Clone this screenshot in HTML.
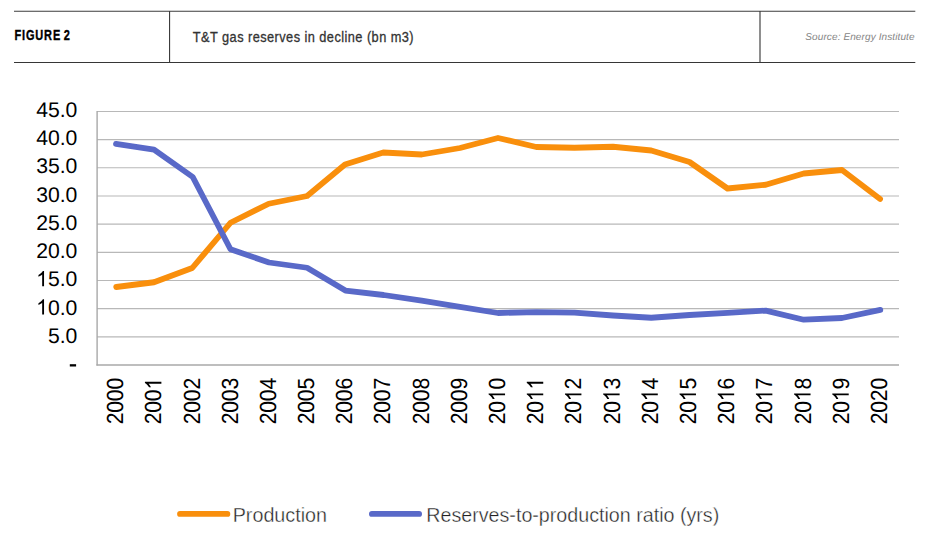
<!DOCTYPE html>
<html><head><meta charset="utf-8"><title>Figure 2</title>
<style>
html,body{margin:0;padding:0;background:#fff;}
body{width:928px;height:545px;overflow:hidden;position:relative;font-family:"Liberation Sans",sans-serif;}
svg{position:absolute;left:0;top:0;}
svg text{font-family:"Liberation Sans",sans-serif;}
.ax text{font-size:21.2px;fill:#000;text-rendering:geometricPrecision;}
.lg text{font-size:20px;fill:#222;stroke:#fff;stroke-width:0.38px;}
</style></head><body>
<svg width="928" height="545" viewBox="0 0 928 545">
<rect width="928" height="545" fill="#fff"/>
<!-- header -->
<line x1="14" y1="11.25" x2="915.3" y2="11.25" stroke="#3c3c3c" stroke-width="1.2"/>
<line x1="14" y1="62.45" x2="915.3" y2="62.45" stroke="#363636" stroke-width="1.05"/>
<line x1="169.55" y1="11" x2="169.55" y2="62.5" stroke="#3c3c3c" stroke-width="1.15"/>
<line x1="760.0" y1="11" x2="760.0" y2="62.5" stroke="#3c3c3c" stroke-width="1.15"/>
<text transform="translate(14.5,39.9) scale(0.717,1)" font-size="15.3" font-weight="bold" fill="#000" stroke="#000" stroke-width="0.4" letter-spacing="1.2" word-spacing="-1.8">FIGURE 2</text>
<text transform="translate(192.8,41.7) scale(0.883,1)" font-size="14.5" fill="#333" stroke="#333" stroke-width="0.3" letter-spacing="0.5">T&amp;T gas reserves in decline (bn m3)</text>
<text x="805.3" y="40.3" font-size="10.0" font-style="italic" fill="#858585" letter-spacing="0.11" style="text-rendering:geometricPrecision">Source: Energy Institute</text>
<!-- grid -->
<line x1="97.1" y1="111.45" x2="899.0" y2="111.45" stroke="#b8b8b8" stroke-width="1.15"/>
<line x1="97.1" y1="139.62" x2="899.0" y2="139.62" stroke="#b8b8b8" stroke-width="1.15"/>
<line x1="97.1" y1="167.79" x2="899.0" y2="167.79" stroke="#b8b8b8" stroke-width="1.15"/>
<line x1="97.1" y1="195.97" x2="899.0" y2="195.97" stroke="#b8b8b8" stroke-width="1.15"/>
<line x1="97.1" y1="224.14" x2="899.0" y2="224.14" stroke="#b8b8b8" stroke-width="1.15"/>
<line x1="97.1" y1="252.31" x2="899.0" y2="252.31" stroke="#b8b8b8" stroke-width="1.15"/>
<line x1="97.1" y1="280.48" x2="899.0" y2="280.48" stroke="#b8b8b8" stroke-width="1.15"/>
<line x1="97.1" y1="308.66" x2="899.0" y2="308.66" stroke="#b8b8b8" stroke-width="1.15"/>
<line x1="97.1" y1="336.83" x2="899.0" y2="336.83" stroke="#b8b8b8" stroke-width="1.15"/>

<line x1="96.39999999999999" y1="365.0" x2="899.0" y2="365.0" stroke="#a8a8a8" stroke-width="1.6"/>
<line x1="97.1" y1="110.95" x2="97.1" y2="365.5" stroke="#a8a8a8" stroke-width="1.4"/>
<g class="ax">
<g transform="translate(36.14,116.75)"><text y="0" font-size="21.2"><tspan x="0.00">4</tspan><tspan x="11.79">5</tspan><tspan x="23.58">.</tspan><tspan x="29.47">0</tspan></text></g>
<g transform="translate(36.14,145.01)"><text y="0" font-size="21.2"><tspan x="0.00">4</tspan><tspan x="11.79">0</tspan><tspan x="23.58">.</tspan><tspan x="29.47">0</tspan></text></g>
<g transform="translate(36.14,173.27)"><text y="0" font-size="21.2"><tspan x="0.00">3</tspan><tspan x="11.79">5</tspan><tspan x="23.58">.</tspan><tspan x="29.47">0</tspan></text></g>
<g transform="translate(36.14,201.53)"><text y="0" font-size="21.2"><tspan x="0.00">3</tspan><tspan x="11.79">0</tspan><tspan x="23.58">.</tspan><tspan x="29.47">0</tspan></text></g>
<g transform="translate(36.14,229.79)"><text y="0" font-size="21.2"><tspan x="0.00">2</tspan><tspan x="11.79">5</tspan><tspan x="23.58">.</tspan><tspan x="29.47">0</tspan></text></g>
<g transform="translate(36.14,258.05)"><text y="0" font-size="21.2"><tspan x="0.00">2</tspan><tspan x="11.79">0</tspan><tspan x="23.58">.</tspan><tspan x="29.47">0</tspan></text></g>
<g transform="translate(36.14,286.31)"><path d="M763 0L583 0L583 1147Q518 1085 412.5 1023Q307 961 223 930L223 1104Q374 1175 487 1276Q600 1377 647 1472L763 1472Z" transform="translate(0.00,0) scale(0.010352,-0.010352)"/><text y="0" font-size="21.2"><tspan x="11.79">5</tspan><tspan x="23.58">.</tspan><tspan x="29.47">0</tspan></text></g>
<g transform="translate(36.14,314.57)"><path d="M763 0L583 0L583 1147Q518 1085 412.5 1023Q307 961 223 930L223 1104Q374 1175 487 1276Q600 1377 647 1472L763 1472Z" transform="translate(0.00,0) scale(0.010352,-0.010352)"/><text y="0" font-size="21.2"><tspan x="11.79">0</tspan><tspan x="23.58">.</tspan><tspan x="29.47">0</tspan></text></g>
<g transform="translate(47.93,342.83)"><text y="0" font-size="21.2"><tspan x="0.00">5</tspan><tspan x="11.79">.</tspan><tspan x="17.68">0</tspan></text></g>
<rect x="69.8" y="364.2" width="6.3" height="2.3" fill="#000"/>

<g transform="translate(123.19,424.3) rotate(-90) scale(1,1.10)"><text y="0" font-size="20.8"><tspan x="0.00">2</tspan><tspan x="11.57">0</tspan><tspan x="23.14">0</tspan><tspan x="34.70">0</tspan></text></g>
<g transform="translate(161.38,424.3) rotate(-90) scale(1,1.10)"><path d="M763 0L583 0L583 1147Q518 1085 412.5 1023Q307 961 223 930L223 1104Q374 1175 487 1276Q600 1377 647 1472L763 1472Z" transform="translate(34.70,0) scale(0.010156,-0.010156)"/><text y="0" font-size="20.8"><tspan x="0.00">2</tspan><tspan x="11.57">0</tspan><tspan x="23.14">0</tspan></text></g>
<g transform="translate(199.56,424.3) rotate(-90) scale(1,1.10)"><text y="0" font-size="20.8"><tspan x="0.00">2</tspan><tspan x="11.57">0</tspan><tspan x="23.14">0</tspan><tspan x="34.70">2</tspan></text></g>
<g transform="translate(237.75,424.3) rotate(-90) scale(1,1.10)"><text y="0" font-size="20.8"><tspan x="0.00">2</tspan><tspan x="11.57">0</tspan><tspan x="23.14">0</tspan><tspan x="34.70">3</tspan></text></g>
<g transform="translate(275.94,424.3) rotate(-90) scale(1,1.10)"><text y="0" font-size="20.8"><tspan x="0.00">2</tspan><tspan x="11.57">0</tspan><tspan x="23.14">0</tspan><tspan x="34.70">4</tspan></text></g>
<g transform="translate(314.12,424.3) rotate(-90) scale(1,1.10)"><text y="0" font-size="20.8"><tspan x="0.00">2</tspan><tspan x="11.57">0</tspan><tspan x="23.14">0</tspan><tspan x="34.70">5</tspan></text></g>
<g transform="translate(352.31,424.3) rotate(-90) scale(1,1.10)"><text y="0" font-size="20.8"><tspan x="0.00">2</tspan><tspan x="11.57">0</tspan><tspan x="23.14">0</tspan><tspan x="34.70">6</tspan></text></g>
<g transform="translate(390.49,424.3) rotate(-90) scale(1,1.10)"><text y="0" font-size="20.8"><tspan x="0.00">2</tspan><tspan x="11.57">0</tspan><tspan x="23.14">0</tspan><tspan x="34.70">7</tspan></text></g>
<g transform="translate(428.68,424.3) rotate(-90) scale(1,1.10)"><text y="0" font-size="20.8"><tspan x="0.00">2</tspan><tspan x="11.57">0</tspan><tspan x="23.14">0</tspan><tspan x="34.70">8</tspan></text></g>
<g transform="translate(466.86,424.3) rotate(-90) scale(1,1.10)"><text y="0" font-size="20.8"><tspan x="0.00">2</tspan><tspan x="11.57">0</tspan><tspan x="23.14">0</tspan><tspan x="34.70">9</tspan></text></g>
<g transform="translate(505.05,424.3) rotate(-90) scale(1,1.10)"><path d="M763 0L583 0L583 1147Q518 1085 412.5 1023Q307 961 223 930L223 1104Q374 1175 487 1276Q600 1377 647 1472L763 1472Z" transform="translate(23.14,0) scale(0.010156,-0.010156)"/><text y="0" font-size="20.8"><tspan x="0.00">2</tspan><tspan x="11.57">0</tspan><tspan x="34.70">0</tspan></text></g>
<g transform="translate(543.24,424.3) rotate(-90) scale(1,1.10)"><path d="M763 0L583 0L583 1147Q518 1085 412.5 1023Q307 961 223 930L223 1104Q374 1175 487 1276Q600 1377 647 1472L763 1472Z" transform="translate(23.14,0) scale(0.010156,-0.010156)"/><path d="M763 0L583 0L583 1147Q518 1085 412.5 1023Q307 961 223 930L223 1104Q374 1175 487 1276Q600 1377 647 1472L763 1472Z" transform="translate(34.70,0) scale(0.010156,-0.010156)"/><text y="0" font-size="20.8"><tspan x="0.00">2</tspan><tspan x="11.57">0</tspan></text></g>
<g transform="translate(581.42,424.3) rotate(-90) scale(1,1.10)"><path d="M763 0L583 0L583 1147Q518 1085 412.5 1023Q307 961 223 930L223 1104Q374 1175 487 1276Q600 1377 647 1472L763 1472Z" transform="translate(23.14,0) scale(0.010156,-0.010156)"/><text y="0" font-size="20.8"><tspan x="0.00">2</tspan><tspan x="11.57">0</tspan><tspan x="34.70">2</tspan></text></g>
<g transform="translate(619.61,424.3) rotate(-90) scale(1,1.10)"><path d="M763 0L583 0L583 1147Q518 1085 412.5 1023Q307 961 223 930L223 1104Q374 1175 487 1276Q600 1377 647 1472L763 1472Z" transform="translate(23.14,0) scale(0.010156,-0.010156)"/><text y="0" font-size="20.8"><tspan x="0.00">2</tspan><tspan x="11.57">0</tspan><tspan x="34.70">3</tspan></text></g>
<g transform="translate(657.79,424.3) rotate(-90) scale(1,1.10)"><path d="M763 0L583 0L583 1147Q518 1085 412.5 1023Q307 961 223 930L223 1104Q374 1175 487 1276Q600 1377 647 1472L763 1472Z" transform="translate(23.14,0) scale(0.010156,-0.010156)"/><text y="0" font-size="20.8"><tspan x="0.00">2</tspan><tspan x="11.57">0</tspan><tspan x="34.70">4</tspan></text></g>
<g transform="translate(695.98,424.3) rotate(-90) scale(1,1.10)"><path d="M763 0L583 0L583 1147Q518 1085 412.5 1023Q307 961 223 930L223 1104Q374 1175 487 1276Q600 1377 647 1472L763 1472Z" transform="translate(23.14,0) scale(0.010156,-0.010156)"/><text y="0" font-size="20.8"><tspan x="0.00">2</tspan><tspan x="11.57">0</tspan><tspan x="34.70">5</tspan></text></g>
<g transform="translate(734.16,424.3) rotate(-90) scale(1,1.10)"><path d="M763 0L583 0L583 1147Q518 1085 412.5 1023Q307 961 223 930L223 1104Q374 1175 487 1276Q600 1377 647 1472L763 1472Z" transform="translate(23.14,0) scale(0.010156,-0.010156)"/><text y="0" font-size="20.8"><tspan x="0.00">2</tspan><tspan x="11.57">0</tspan><tspan x="34.70">6</tspan></text></g>
<g transform="translate(772.35,424.3) rotate(-90) scale(1,1.10)"><path d="M763 0L583 0L583 1147Q518 1085 412.5 1023Q307 961 223 930L223 1104Q374 1175 487 1276Q600 1377 647 1472L763 1472Z" transform="translate(23.14,0) scale(0.010156,-0.010156)"/><text y="0" font-size="20.8"><tspan x="0.00">2</tspan><tspan x="11.57">0</tspan><tspan x="34.70">7</tspan></text></g>
<g transform="translate(810.54,424.3) rotate(-90) scale(1,1.10)"><path d="M763 0L583 0L583 1147Q518 1085 412.5 1023Q307 961 223 930L223 1104Q374 1175 487 1276Q600 1377 647 1472L763 1472Z" transform="translate(23.14,0) scale(0.010156,-0.010156)"/><text y="0" font-size="20.8"><tspan x="0.00">2</tspan><tspan x="11.57">0</tspan><tspan x="34.70">8</tspan></text></g>
<g transform="translate(848.72,424.3) rotate(-90) scale(1,1.10)"><path d="M763 0L583 0L583 1147Q518 1085 412.5 1023Q307 961 223 930L223 1104Q374 1175 487 1276Q600 1377 647 1472L763 1472Z" transform="translate(23.14,0) scale(0.010156,-0.010156)"/><text y="0" font-size="20.8"><tspan x="0.00">2</tspan><tspan x="11.57">0</tspan><tspan x="34.70">9</tspan></text></g>
<g transform="translate(886.91,424.3) rotate(-90) scale(1,1.10)"><text y="0" font-size="20.8"><tspan x="0.00">2</tspan><tspan x="11.57">0</tspan><tspan x="23.14">2</tspan><tspan x="34.70">0</tspan></text></g>

</g>
<polyline points="116.20,287.00 154.00,282.25 192.25,268.00 230.50,222.75 268.75,203.75 307.10,196.00 345.00,164.50 383.25,152.50 421.75,154.50 460.00,148.00 498.00,138.00 536.25,147.00 574.50,147.75 613.00,146.75 651.25,150.50 689.50,162.00 727.50,188.50 765.75,184.75 803.75,173.50 842.00,170.00 880.10,199.00" fill="none" stroke="#F98F0C" stroke-width="5.8" stroke-linejoin="round" stroke-linecap="round"/>
<polyline points="116.00,143.90 154.00,149.70 192.75,177.00 230.50,249.25 269.00,262.50 307.10,267.75 345.40,290.60 383.60,295.00 421.70,300.70 459.90,306.80 498.00,313.00 536.25,312.10 574.50,312.60 613.00,315.50 651.25,317.75 689.50,315.00 727.50,312.90 765.75,310.60 803.75,319.70 842.00,318.00 880.30,309.90" fill="none" stroke="#5969C8" stroke-width="5.8" stroke-linejoin="round" stroke-linecap="round"/>
<!-- legend -->
<line x1="180.0" y1="513.95" x2="227.4" y2="513.95" stroke="#F98F0C" stroke-width="5.8" stroke-linecap="round"/>
<line x1="371.9" y1="513.95" x2="419.1" y2="513.95" stroke="#5969C8" stroke-width="5.8" stroke-linecap="round"/>
<g class="lg">
<text transform="translate(232.7,521.9) scale(0.987,1)">Production</text>
<text transform="translate(426.3,521.9) scale(0.984,1)">Reserves-to-production ratio (yrs)</text>
</g>
</svg>
</body></html>
